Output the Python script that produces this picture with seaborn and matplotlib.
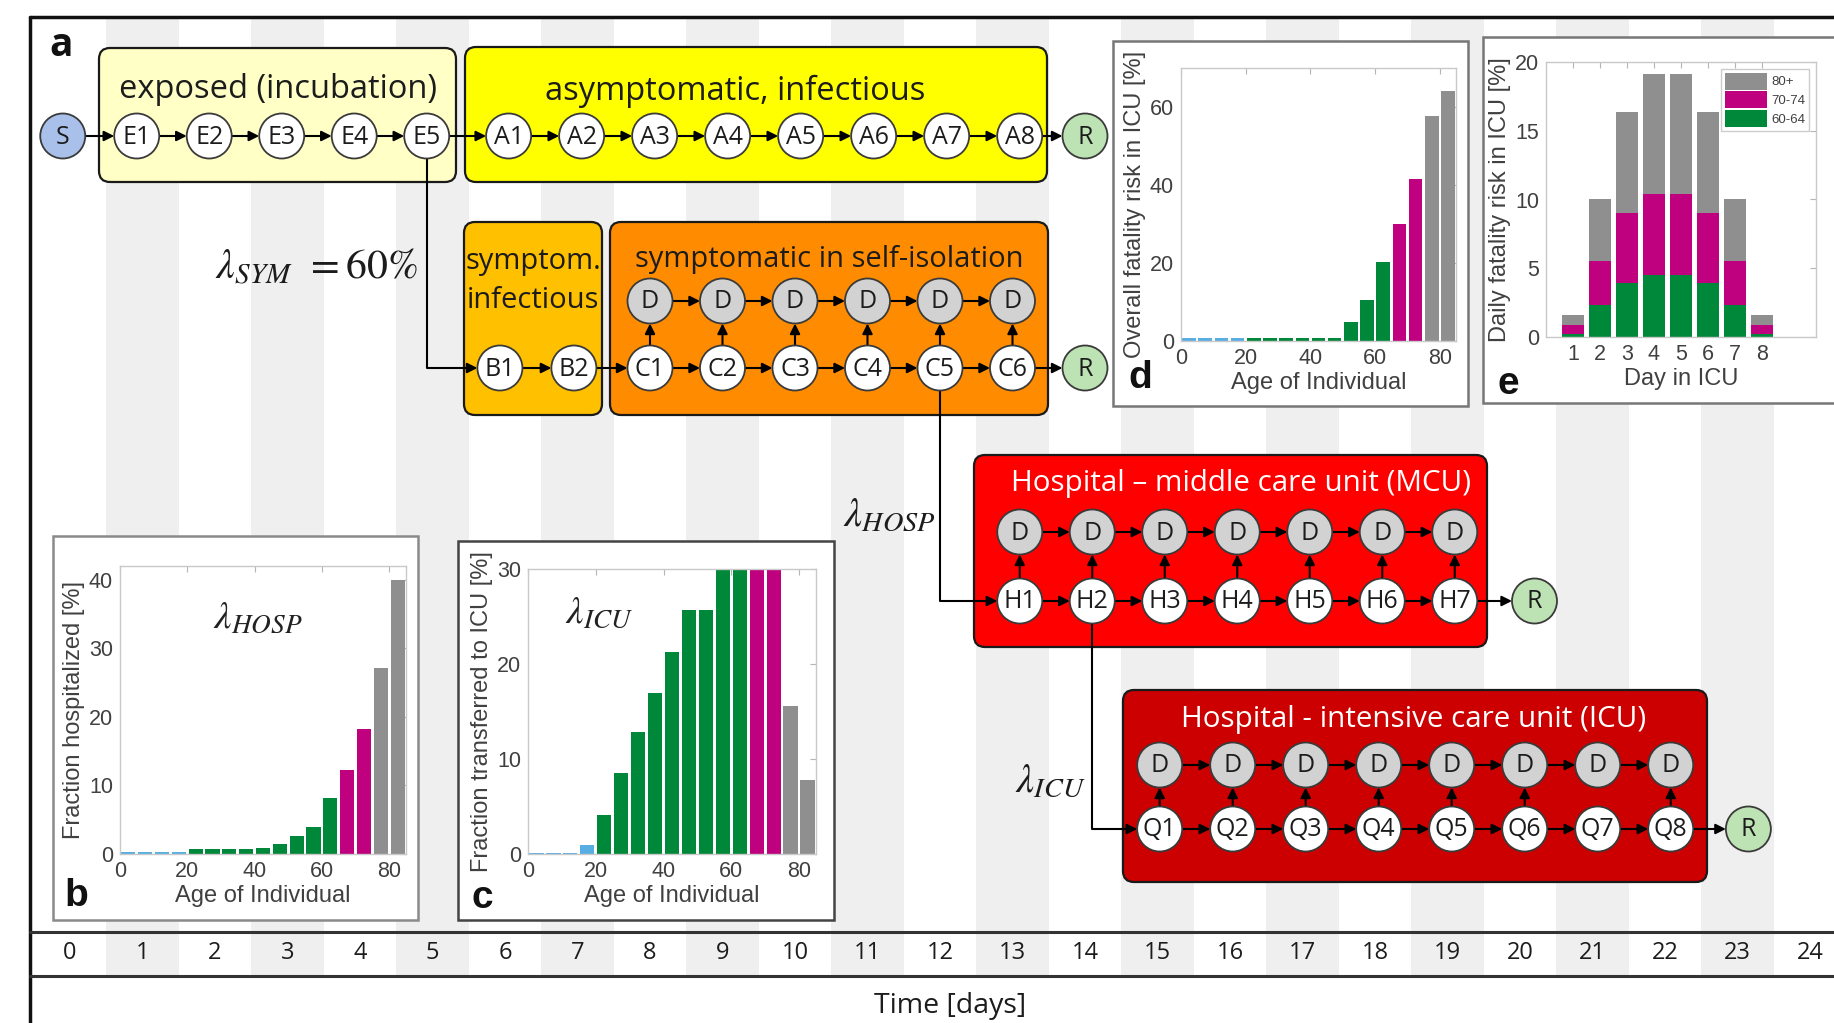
import numpy as np
import pandas as pd
import matplotlib
matplotlib.use("Agg")
import matplotlib.pyplot as plt
from matplotlib.patches import FancyBboxPatch, Ellipse, Rectangle, FancyArrowPatch
import seaborn as sns

# ---------------------------------------------------------------- data
age_mid = [2.5, 7.5, 12.5, 17.5, 22.5, 27.5, 32.5, 37.5, 42.5,
           47.5, 52.5, 57.5, 62.5, 67.5, 72.5, 77.5, 82.5]
age_class = (["0-19"] * 4 + ["20-64"] * 9 + ["65-74"] * 2 + ["75+"] * 2)

# fraction of symptomatic cases hospitalised [%]
hosp_pct = [0.3, 0.3, 0.3, 0.3, 0.7, 0.7, 0.7, 0.7, 0.9,
            1.4, 2.6, 4.0, 8.1, 12.3, 18.2, 27.1, 40.0]
# fraction of hospitalised transferred to ICU [%]
icu_pct = [0.15, 0.15, 0.15, 1.0, 4.1, 8.5, 12.8, 17.0, 21.3,
           25.7, 25.7, 30.0, 30.0, 30.0, 30.0, 15.6, 7.8]
# overall fatality risk in ICU [%]
fatal_pct = [0.7, 0.7, 0.7, 0.7, 0.7, 0.7, 0.7, 0.7, 0.7,
             0.7, 4.9, 10.6, 20.3, 30.0, 41.6, 57.7, 64.2]

# daily fatality risk in ICU [%] per age band
icu_day = [1, 2, 3, 4, 5, 6, 7, 8]
risk_60_64 = [0.25, 2.3, 3.9, 4.5, 4.5, 3.9, 2.3, 0.25]
risk_70_74 = [0.6, 3.2, 5.1, 5.9, 5.9, 5.1, 3.2, 0.6]
risk_80p = [0.75, 4.5, 7.4, 8.7, 8.7, 7.4, 4.5, 0.75]

days = list(range(25))

# ---------------------------------------------------------------- style
sns.set_style("white")
plt.rcParams["font.family"] = ["Open Sans", "DejaVu Sans"]
plt.rcParams["mathtext.fontset"] = "stix"

C_BLUE = "#58aee2"
C_GREEN = "#00883a"
C_MAG = "#bf007f"
C_GRAY = "#8f8f8f"
group_colors = {"0-19": C_BLUE, "20-64": C_GREEN, "65-74": C_MAG, "75+": C_GRAY}

W, H = 1834, 1023
fig = plt.figure(figsize=(W / 100, H / 100), dpi=100)
ax = fig.add_axes([0, 0, 1, 1])
ax.set_xlim(0, W)
ax.set_ylim(H, 0)
ax.axis("off")

DAY0, DAYW = 70.0, 72.5


def dx(d):
    return DAY0 + DAYW * d


R_NODE = 22.5
LW = 1.5
TXT = "#1c1c1c"

# day stripes
for d in days:
    if d % 2 == 1:
        ax.add_patch(Rectangle((dx(d) - DAYW / 2, 17), DAYW, 976 - 17,
                               fc="#efefef", ec="none", zorder=0))

# outer frame and time row
ax.plot([30, W], [17, 17], color="#111", lw=2.5, zorder=1)
ax.plot([30, 30], [17, H], color="#111", lw=2.5, zorder=1)
ax.plot([30, W], [932, 932], color="#333", lw=2.2, zorder=1)
ax.plot([30, W], [976, 976], color="#333", lw=2.2, zorder=1)
for d in days:
    ax.text(dx(d), 953, str(d), ha="center", va="center", fontsize=17,
            color=TXT, zorder=5)
ax.text(950, 1006, "Time [days]", ha="center", va="center", fontsize=20.5,
        color=TXT, zorder=5)
ax.text(61, 45, "a", ha="center", va="center", fontsize=28,
        fontweight="bold", color="#111", zorder=5)


def box(x0, y0, x1, y1, fc):
    ax.add_patch(FancyBboxPatch((x0, y0), x1 - x0, y1 - y0,
                                boxstyle="round,pad=0,rounding_size=11",
                                fc=fc, ec="#1a1a1a", lw=1.6, zorder=1.5))


def node(x, y, label, fc="white"):
    ax.add_patch(Ellipse((x, y), 2 * R_NODE, 2 * R_NODE, fc=fc, ec="#3a3a3a",
                         lw=1.3, zorder=4))
    ax.text(x, y + 1, label, ha="center", va="center", fontsize=18,
            color=TXT, zorder=5)


def arrow(p0, p1):
    ax.add_patch(FancyArrowPatch(p0, p1, arrowstyle="-|>", mutation_scale=15,
                                 lw=LW, color="black", shrinkA=0, shrinkB=0,
                                 zorder=3))


def h_chain(xs, y):
    for a, b in zip(xs[:-1], xs[1:]):
        arrow((a + R_NODE, y), (b - R_NODE, y))


def up_arrows(xs, y_low, y_high):
    for x in xs:
        arrow((x, y_low - R_NODE), (x, y_high + R_NODE))


# ---------------- compartments
# exposed / asymptomatic row
Y1 = 136
box(99, 48, 456, 182, "#ffffc6")
box(465, 47, 1047, 182, "#ffff00")
ax.text(278, 89, "exposed (incubation)", ha="center", va="center",
        fontsize=23.5, color=TXT, zorder=5)
ax.text(735, 91, "asymptomatic, infectious", ha="center", va="center",
        fontsize=23.5, color=TXT, zorder=5)
xs_s = [dx(-0.1)]
xs_e = [dx(0.92 + 1.0 * k) for k in range(5)]
xs_a = [dx(6.05 + 1.007 * k) for k in range(8)]
xs_r1 = [dx(14.0)]
row1 = xs_s + xs_e + xs_a + xs_r1
h_chain(row1, Y1)
node(xs_s[0], Y1, "S", "#a9c1ea")
for i, x in enumerate(xs_e):
    node(x, Y1, f"E{i + 1}")
for i, x in enumerate(xs_a):
    node(x, Y1, f"A{i + 1}")
node(xs_r1[0], Y1, "R", "#bde3b4")

# symptomatic row
YD2, YC2 = 301, 368
box(464, 222, 602, 415, "#ffc000")
box(610, 222, 1048, 415, "#ff8c00")
ax.text(533, 261, "symptom.", ha="center", va="center", fontsize=21,
        color=TXT, zorder=5)
ax.text(533, 300, "infectious", ha="center", va="center", fontsize=21,
        color=TXT, zorder=5)
ax.text(829, 259, "symptomatic in self-isolation", ha="center", va="center",
        fontsize=21, color=TXT, zorder=5)
xs_b = [dx(5.93), dx(6.95)]
xs_c = [dx(8 + k) for k in range(6)]
xs_r2 = [dx(14.0)]
h_chain(xs_b + xs_c + xs_r2, YC2)
h_chain(xs_c, YD2)
up_arrows(xs_c, YC2, YD2)
for i, x in enumerate(xs_b):
    node(x, YC2, f"B{i + 1}")
for i, x in enumerate(xs_c):
    node(x, YC2, f"C{i + 1}")
    node(x, YD2, "D", "#d2d2d2")
node(xs_r2[0], YC2, "R", "#bde3b4")
ax.text(316, 268, r"$\lambda_{SYM}\;\,=60\%$", ha="center", va="center",
        fontsize=30, color=TXT, zorder=5)

# E5 -> B1 branch
ax.plot([xs_e[4], xs_e[4], xs_b[0] - R_NODE - 10],
        [Y1 + R_NODE, YC2, YC2], color="black", lw=LW, zorder=2)
arrow((xs_b[0] - R_NODE - 12, YC2), (xs_b[0] - R_NODE, YC2))

# hospital middle care
YD3, YH3 = 532, 601
box(974, 455, 1487, 647, "#ff0000")
ax.text(1241, 483, "Hospital \u2013 middle care unit (MCU)", ha="center",
        va="center", fontsize=21.3, color="white", zorder=5)
xs_h = [dx(13.1 + k) for k in range(7)]
xs_r3 = [dx(20.2)]
h_chain(xs_h + xs_r3, YH3)
h_chain(xs_h, YD3)
up_arrows(xs_h, YH3, YD3)
for i, x in enumerate(xs_h):
    node(x, YH3, f"H{i + 1}")
    node(x, YD3, "D", "#d2d2d2")
node(xs_r3[0], YH3, "R", "#bde3b4")
ax.plot([xs_c[4], xs_c[4], xs_h[0] - R_NODE - 10],
        [YC2 + R_NODE, YH3, YH3], color="black", lw=LW, zorder=2)
arrow((xs_h[0] - R_NODE - 12, YH3), (xs_h[0] - R_NODE, YH3))
ax.text(889, 515, r"$\lambda_{HOSP}$", ha="center", va="center",
        fontsize=29, color=TXT, zorder=5)

# hospital intensive care
YD4, YQ4 = 765, 829
box(1123, 690, 1707, 882, "#cc0000")
ax.text(1414, 720, "Hospital - intensive care unit (ICU)", ha="center",
        va="center", fontsize=21.3, color="white", zorder=5)
xs_q = [dx(15.03 + 1.007 * k) for k in range(8)]
xs_r4 = [dx(23.15)]
h_chain(xs_q + xs_r4, YQ4)
h_chain(xs_q, YD4)
up_arrows([x for i, x in enumerate(xs_q) if i != 6], YQ4, YD4)
for i, x in enumerate(xs_q):
    node(x, YQ4, f"Q{i + 1}")
    node(x, YD4, "D", "#d2d2d2")
node(xs_r4[0], YQ4, "R", "#bde3b4")
ax.plot([xs_h[1], xs_h[1], xs_q[0] - R_NODE - 10],
        [YH3 + R_NODE, YQ4, YQ4], color="black", lw=LW, zorder=2)
arrow((xs_q[0] - R_NODE - 12, YQ4), (xs_q[0] - R_NODE, YQ4))
ax.text(1050, 781, r"$\lambda_{ICU}$", ha="center", va="center",
        fontsize=29, color=TXT, zorder=5)

# inset frames
for (x0, y0, x1, y1, ec) in [(53, 536, 418, 920, "#8a8a8a"),
                             (458, 541, 834, 920, "#444"),
                             (1113, 41, 1468, 406, "#777"),
                             (1483, 37, 1850, 403, "#777")]:
    ax.add_patch(Rectangle((x0, y0), x1 - x0, y1 - y0, fc="white", ec=ec,
                           lw=1.8, zorder=6))


# ---------------------------------------------------------------- insets
def px_axes(x0, y0, x1, y1):
    return fig.add_axes([x0 / W, 1 - y1 / H, (x1 - x0) / W, (y1 - y0) / H])


SANS = ["Liberation Sans", "DejaVu Sans"]


def style_inset(a, xlabel, ylabel):
    a.set_facecolor("white")
    for s in a.spines.values():
        s.set_visible(True)
        s.set_color("#c9c9c9")
        s.set_linewidth(1.0)
    a.tick_params(direction="in", top=True, right=True, length=4, width=0.8,
                  color="#b5b5b5", labelcolor="#404040", labelsize=15.5, pad=5)
    for lbl in a.get_xticklabels() + a.get_yticklabels():
        lbl.set_fontfamily(SANS)
    a.set_xlabel(xlabel, fontsize=17, color="#404040", family=SANS, labelpad=2)
    a.set_ylabel(ylabel, fontsize=17, color="#404040", family=SANS, labelpad=3)


def age_bars(a, values, ymax, yticks, xlabel, ylabel):
    df = pd.DataFrame({"age": age_mid, "value": values, "group": age_class})
    sns.barplot(data=df, x="age", y="value", hue="group", palette=group_colors,
                native_scale=True, dodge=False, width=0.84, errorbar=None,
                saturation=1, legend=False, ax=a, edgecolor="none")
    a.set_xlim(0, 85)
    a.set_ylim(0, ymax)
    a.set_xticks([0, 20, 40, 60, 80])
    a.set_yticks(yticks)
    style_inset(a, xlabel, ylabel)


ax_b = px_axes(120, 566, 406, 854)
age_bars(ax_b, hosp_pct, 42, [0, 10, 20, 30, 40], "Age of Individual",
         "Fraction hospitalized [%]")
ax_b.text(41, 34.5, r"$\lambda_{HOSP}$", ha="center", va="center",
          fontsize=28, color="#222")
fig.text(76 / W, 1 - 896 / H, "b", ha="center", va="center", fontsize=28,
         fontweight="bold", family=SANS, color="#111")

ax_c = px_axes(528, 569, 816, 854)
age_bars(ax_c, icu_pct, 30, [0, 10, 20, 30], "Age of Individual",
         "Fraction transferred to ICU [%]")
ax_c.text(21, 25.4, r"$\lambda_{ICU}$", ha="center", va="center",
          fontsize=28, color="#222")
fig.text(482 / W, 1 - 898 / H, "c", ha="center", va="center", fontsize=28,
         fontweight="bold", family=SANS, color="#111")

ax_d = px_axes(1181, 68, 1456, 341)
age_bars(ax_d, fatal_pct, 70, [0, 20, 40, 60], "Age of Individual",
         "Overall fatality risk in ICU [%]")
fig.text(1140 / W, 1 - 378 / H, "d", ha="center", va="center", fontsize=28,
         fontweight="bold", family=SANS, color="#111")

ax_e = px_axes(1546, 62, 1816, 337)
s1 = np.array(risk_60_64)
s2 = s1 + np.array(risk_70_74)
s3 = s2 + np.array(risk_80p)
for heights, col, lab in [(s3, C_GRAY, "80+"), (s2, C_MAG, "70-74"),
                          (s1, C_GREEN, "60-64")]:
    sns.barplot(x=icu_day, y=heights, color=col, native_scale=True, width=0.8,
                errorbar=None, saturation=1, label=lab, ax=ax_e,
                edgecolor="none")
ax_e.set_xlim(0, 10)
ax_e.set_ylim(0, 20)
ax_e.set_xticks(icu_day)
ax_e.set_yticks([0, 5, 10, 15, 20])
style_inset(ax_e, "Day in ICU", "Daily fatality risk in ICU [%]")
leg = ax_e.legend(loc="upper right", frameon=True, fancybox=False,
                  edgecolor="#c0c0c0", handlelength=3.2, handleheight=1.6,
                  borderpad=0.3, labelspacing=0.15, handletextpad=0.3,
                  borderaxespad=0.5, prop={"family": SANS, "size": 9.5})
for t in leg.get_texts():
    t.set_color("#404040")
fig.text(1508 / W, 1 - 384 / H, "e", ha="center", va="center", fontsize=28,
         fontweight="bold", family=SANS, color="#111")

fig.savefig("out.png", dpi=100)
